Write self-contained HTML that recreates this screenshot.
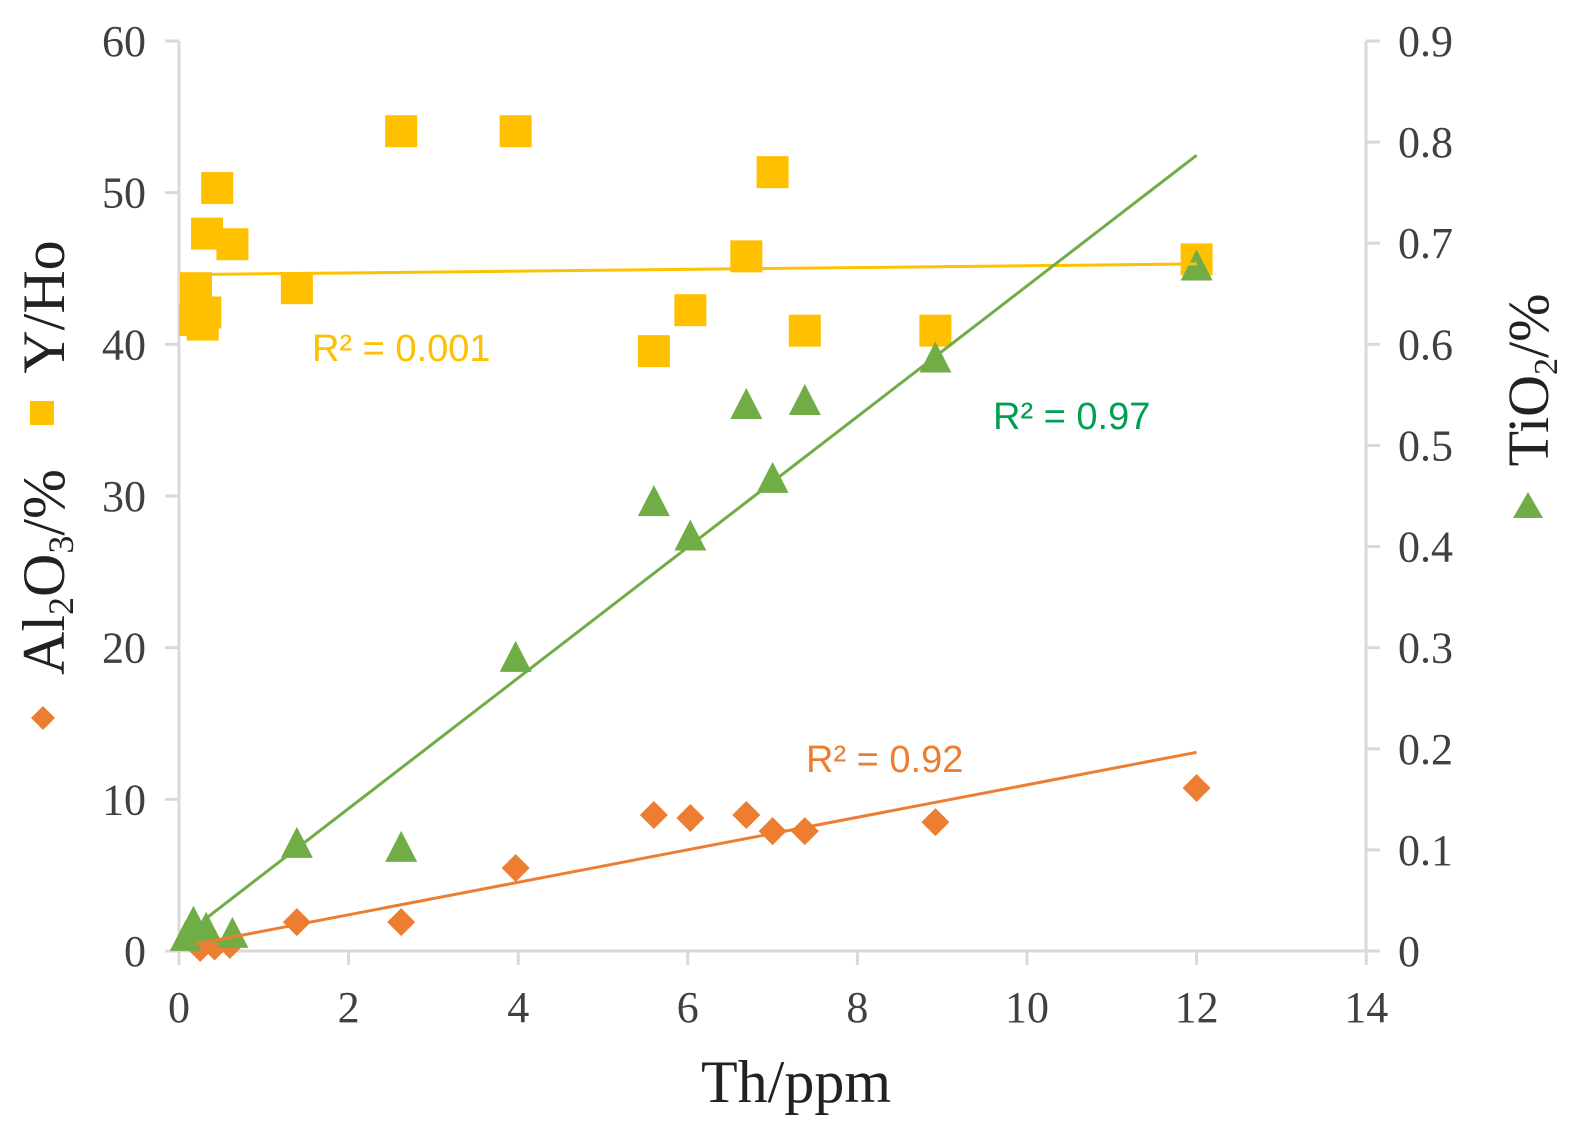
<!DOCTYPE html>
<html><head><meta charset="utf-8"><style>
body{margin:0;background:#fff}
svg{display:block}
text{font-family:"Liberation Serif",serif;fill:#404040}
.t{font-size:44px}
</style></head><body>
<svg id="chart" width="1571" height="1128" viewBox="0 0 1571 1128">
<g id="axes"></g><g id="marks"></g>
<text x="796" y="1102" font-size="60" text-anchor="middle" style="fill:#222">Th/ppm</text>
<text transform="translate(64,572) rotate(-90)" font-size="60" text-anchor="middle" style="fill:#222">Al<tspan font-size="36" dy="9">2</tspan><tspan dy="-9">O</tspan><tspan font-size="36" dy="9">3</tspan><tspan dy="-9">/%</tspan></text>
<text transform="translate(64,307) rotate(-90)" font-size="60" text-anchor="middle" style="fill:#222">Y/Ho</text>
<rect x="30" y="401" width="24" height="24" fill="#ffc000"/>
<polygon points="43,706 55,718 43,730 31,718" fill="#ed7d31"/>
<text transform="translate(1548,380) rotate(-90)" font-size="58" text-anchor="middle" style="fill:#222">TiO<tspan font-size="34" dy="9">2</tspan><tspan dy="-9">/%</tspan></text>
<polygon points="1528,492 1543,518 1513,518" fill="#70ad47"/>
<text x="312" y="361" font-size="38" style="font-family:'Liberation Sans',sans-serif;fill:#ffc000">R² = 0.001</text>
<text x="993" y="429" font-size="38" style="font-family:'Liberation Sans',sans-serif;fill:#00a050">R² = 0.97</text>
<text x="806" y="772" font-size="38" style="font-family:'Liberation Sans',sans-serif;fill:#ed7d31">R² = 0.92</text>
</svg>
<script>
const thYHo=[2.62,3.97,0.45,7.0,0.33,0.63,6.69,12.0,1.39,0.2,0.19,0.31,0.28,6.03,7.38,8.92,5.6];
const yho=[54.05,54.05,50.3,51.35,47.3,46.6,45.8,45.6,43.7,43.7,41.6,42.1,41.3,42.25,40.9,40.9,39.55];
const thTi=[12.0,8.92,7.38,6.69,7.0,5.6,6.03,3.97,1.39,2.62,0.17,0.32,0.63,0.08];
const tio2=[0.674,0.583,0.541,0.537,0.464,0.441,0.407,0.287,0.103,0.099,0.025,0.019,0.014,0.011];
const thAl=[12.0,8.92,7.38,7.0,6.69,6.03,5.6,3.97,2.62,1.39,0.25,0.6,0.42];
const al2o3=[10.75,8.5,7.9,7.9,8.97,8.77,8.97,5.47,1.9,1.9,0.2,0.4,0.3];
const trendYHo=[[0.2,44.6],[12,45.3]];
const trendTi=[[0.33,0.033],[12,0.787]];
const trendAl=[[0.2,0.46],[12,13.1]];
const xTicks=[0,2,4,6,8,10,12,14];
const yTicks=[0,10,20,30,40,50,60];
const rTicks=["0","0.1","0.2","0.3","0.4","0.5","0.6","0.7","0.8","0.9"];
const X=v=>179+v*84.8, Y=v=>951-v*15.167, R=v=>951-v*1011.1;
const NS="http://www.w3.org/2000/svg";
const ax=document.getElementById('axes'), mk=document.getElementById('marks');
function el(t,a,p){const e=document.createElementNS(NS,t);for(const k in a)e.setAttribute(k,a[k]);p.appendChild(e);return e;}
let e;
e=el('line',{x1:179,y1:41,x2:179,y2:951,stroke:'#d9d9d9','stroke-width':3},ax);


e=el('line',{x1:1366,y1:41,x2:1366,y2:951,stroke:'#d9d9d9','stroke-width':3},ax);


e=el('line',{x1:165,y1:951,x2:1380,y2:951,stroke:'#d9d9d9','stroke-width':3},ax);


xTicks.forEach(v=>{
  el('line',{x1:X(v),y1:951,x2:X(v),y2:965,stroke:'#d9d9d9','stroke-width':3},ax);
  e=el('text',{x:X(v),y:1022,'text-anchor':'middle',class:'t'},ax);e.textContent=v;
  
  
});
yTicks.forEach(v=>{
  el('line',{x1:165,y1:Y(v),x2:179,y2:Y(v),stroke:'#d9d9d9','stroke-width':3},ax);
  e=el('text',{x:146,y:Y(v)+15,'text-anchor':'end',class:'t'},ax);e.textContent=v;
  
  
});
rTicks.forEach(s=>{
  const v=parseFloat(s);
  el('line',{x1:1366,y1:R(v),x2:1380,y2:R(v),stroke:'#d9d9d9','stroke-width':3},ax);
  e=el('text',{x:1398,y:R(v)+15,class:'t'},ax);e.textContent=s;
  
  
});
thYHo.forEach((x,i)=>{
  e=el('rect',{x:X(x)-16,y:Y(yho[i])-16,width:32,height:32,fill:'#ffc000'},mk);
  
  
});
thAl.forEach((x,i)=>{
  const cx=X(x),cy=Y(al2o3[i]);
  e=el('polygon',{points:`${cx},${cy-14} ${cx+14},${cy} ${cx},${cy+14} ${cx-14},${cy}`,fill:'#ed7d31'},mk);
  
  
});
thTi.forEach((x,i)=>{
  const cx=X(x),cy=R(tio2[i]);
  e=el('polygon',{points:`${cx},${cy-20} ${cx+16},${cy+11} ${cx-16},${cy+11}`,fill:'#70ad47'},mk);
  
  
});
e=el('line',{x1:X(trendYHo[0][0]),y1:Y(trendYHo[0][1]),x2:X(trendYHo[1][0]),y2:Y(trendYHo[1][1]),stroke:'#ffc000','stroke-width':3},mk);


e=el('line',{x1:X(trendTi[0][0]),y1:R(trendTi[0][1]),x2:X(trendTi[1][0]),y2:R(trendTi[1][1]),stroke:'#70ad47','stroke-width':3},mk);


e=el('line',{x1:X(trendAl[0][0]),y1:Y(trendAl[0][1]),x2:X(trendAl[1][0]),y2:Y(trendAl[1][1]),stroke:'#ed7d31','stroke-width':3},mk);


</script>
</body></html>
